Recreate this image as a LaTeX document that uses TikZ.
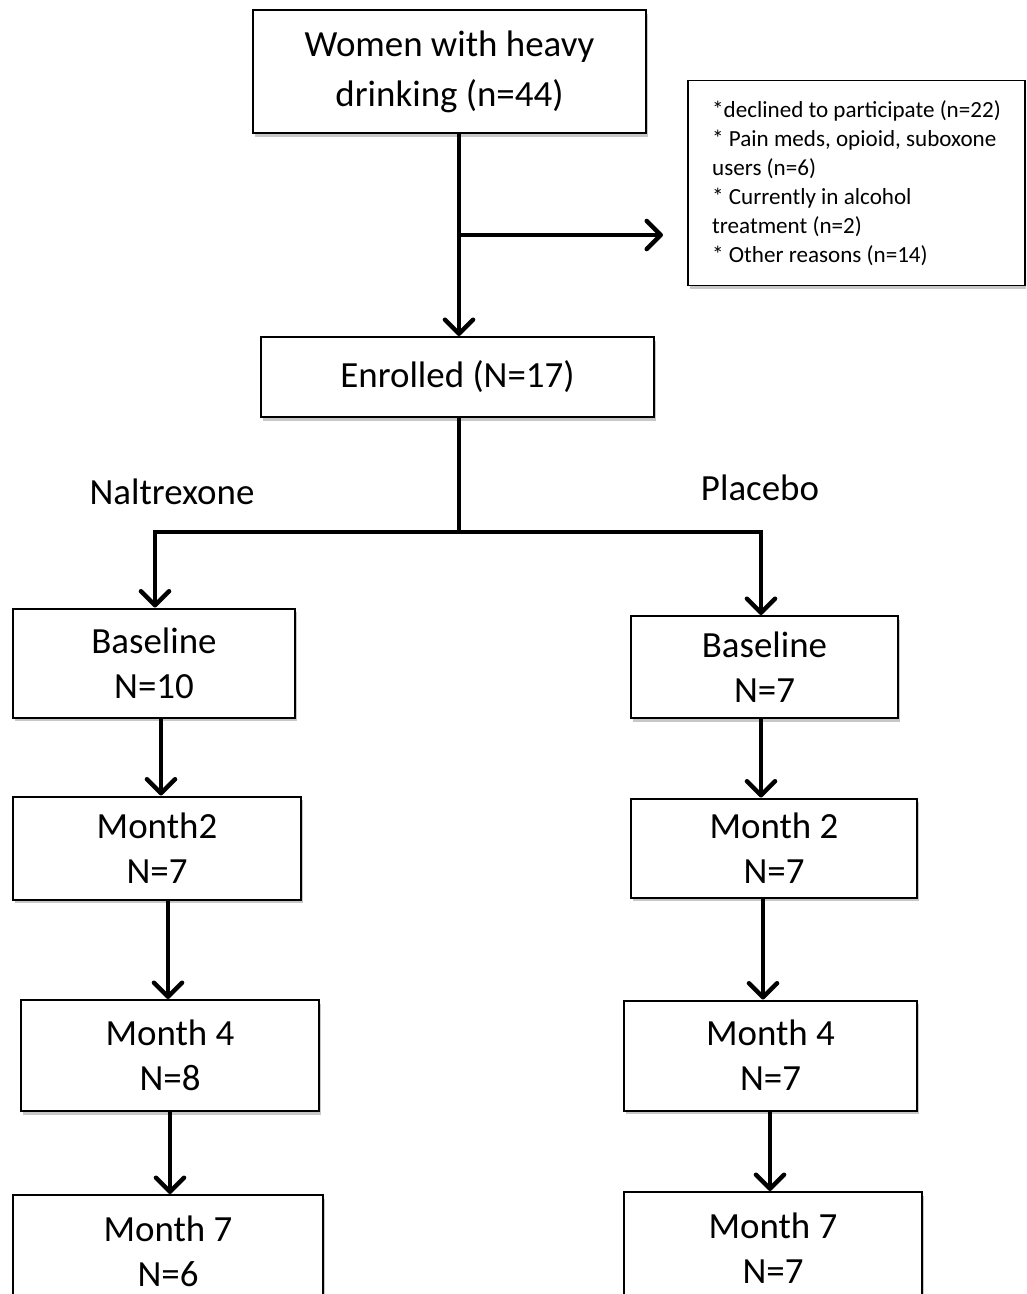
\documentclass[tikz,border=0pt]{standalone}
\usepackage{fontspec}
\setmainfont{Carlito}
\usetikzlibrary{arrows.meta,shadows}

\tikzset{
  box/.style={draw, line width=1.7pt, fill=white, align=center, inner sep=0pt,
    drop shadow={shadow xshift=1.5pt, shadow yshift=-3pt, fill=black!22, opacity=1},
    font=\fontsize{31.5}{38.5}\selectfont},
  arr/.style={line width=3.8pt, -{Straight Barb[length=12pt, width=24pt, line cap=round, line join=round]}},
  link/.style={line width=3.2pt},
  arm/.style={font=\fontsize{31.5}{38.5}\selectfont}
}

\begin{document}
\begin{tikzpicture}[x=0.03cm, y=-0.03cm]
\useasboundingbox (0,0) rectangle (1026,1294);
\clip (0,0) rectangle (1026,1294);
\fill[white] (0,0) rectangle (1026,1294);

% screening
\node[box, minimum width=393*0.03cm, minimum height=123*0.03cm, font=\fontsize{31.5}{42.5}\selectfont] (women) at (449.5,71.5) {Women with heavy\\drinking (n=44)};
\node[box, minimum width=337*0.03cm, minimum height=205*0.03cm, align=left, font=\fontsize{19.7}{24.8}\selectfont] (excl) at (856.5,183) {*declined to participate (n=22)\\{*} Pain meds, opioid, suboxone\\users (n=6)\\{*} Currently in alcohol\\treatment (n=2)\\{*} Other reasons (n=14)};
\node[box, minimum width=393*0.03cm, minimum height=80*0.03cm] (enr) at (457.5,377) {Enrolled (N=17)};

\coordinate (brk) at (459,235);
\coordinate (exclin) at (663,235);
\draw[arr] (women.south -| brk) -- (enr.north -| brk);
\draw[arr] (brk) -- (exclin);

% arms
\node[arm] (nal) at (172,492) {Naltrexone};
\node[arm] (pla) at (760,488) {Placebo};

\node[box, minimum width=282*0.03cm, minimum height=109*0.03cm] (lb) at (154,663) {Baseline\\N=10};
\node[box, minimum width=288*0.03cm, minimum height=103*0.03cm] (lm2) at (157,848) {Month2\\N=7};
\node[box, minimum width=298*0.03cm, minimum height=111*0.03cm] (lm4) at (170,1055.5) {Month 4\\N=8};
\node[box, minimum width=310*0.03cm, minimum height=112*0.03cm] (lm7) at (168,1251) {Month 7\\N=6};

\node[box, minimum width=267*0.03cm, minimum height=102*0.03cm] (rb) at (764.5,667) {Baseline\\N=7};
\node[box, minimum width=286*0.03cm, minimum height=99*0.03cm] (rm2) at (774,848) {Month 2\\N=7};
\node[box, minimum width=293*0.03cm, minimum height=110*0.03cm] (rm4) at (770.5,1055.5) {Month 4\\N=7};
\node[box, minimum width=298*0.03cm, minimum height=112*0.03cm] (rm7) at (773,1248) {Month 7\\N=7};

\draw[link] (enr.south -| brk) -- (brk |- 0,532) coordinate (fork);
\draw[arr] (fork) -| ([xshift=1*0.03cm]lb.north);
\draw[arr] (fork) -| ([xshift=-3.5*0.03cm]rb.north);

\draw[arr] (lb.south -| 161,0) -- (lm2.north -| 161,0);
\draw[arr] (lm2.south -| 168,0) -- (lm4.north -| 168,0);
\draw[arr] (lm4.south -| 170,0) -- (lm7.north -| 170,0);

\draw[arr] (rb.south -| 761,0) -- (rm2.north -| 761,0);
\draw[arr] (rm2.south -| 763,0) -- (rm4.north -| 763,0);
\draw[arr] (rm4.south -| 770,0) -- (rm7.north -| 770,0);
\end{tikzpicture}
\end{document}
